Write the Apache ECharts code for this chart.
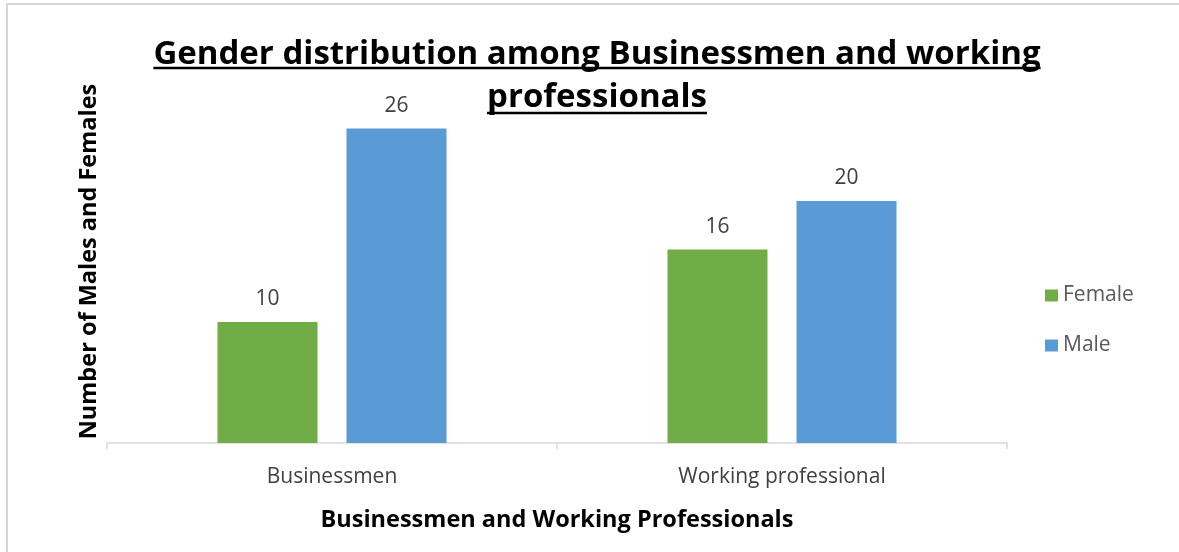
<!DOCTYPE html>
<html>
<head>
<meta charset="utf-8">
<script src="https://cdn.jsdelivr.net/npm/echarts@6/dist/echarts.min.js"></script>
<style>
  html, body { margin: 0; padding: 0; background: #fff; }
  #chart { width: 1179px; height: 552px; }
</style>
</head>
<body>
<div id="chart"></div>
<script>
// Chart data
const categories = ['Businessmen', 'Working professional'];
const femaleValues = [10, 16];
const maleValues = [26, 20];
const seriesNames = ['Female', 'Male'];
const titleLines = ['Gender distribution among Businessmen and working', 'professionals'];

const FONT = '"Open Sans", Lato, sans-serif';
const titleSize = 33;
const titleX = 597;
const titleTops = [38, 81];
const underlineY = [68, 113];

// Measure the title lines so each can carry an underline
const ctx = document.createElement('canvas').getContext('2d');
ctx.font = 'bold ' + titleSize + 'px ' + FONT;
const titleGraphics = [];
titleLines.forEach(function (line, i) {
  const w = ctx.measureText(line).width;
  titleGraphics.push({
    type: 'text',
    left: titleX - w / 2,
    top: titleTops[i],
    style: { text: line, font: 'bold ' + titleSize + 'px ' + FONT, fill: '#000' }
  });
  titleGraphics.push({
    type: 'line',
    shape: { x1: titleX - w / 2, y1: underlineY[i], x2: titleX + w / 2, y2: underlineY[i] },
    style: { stroke: '#000', lineWidth: 2.5 }
  });
});

const chart = echarts.init(document.getElementById('chart'), null, { renderer: 'canvas' });
chart.setOption({
  backgroundColor: '#fff',
  animation: false,
  graphic: [
    {
      type: 'rect',
      shape: { x: 7, y: 4, width: 1200, height: 600 },
      style: { fill: 'none', stroke: '#d6d6d6', lineWidth: 2 },
      z: -1
    }
  ].concat(titleGraphics),
  legend: {
    orient: 'vertical',
    left: 1040,
    top: 280,
    itemWidth: 13,
    itemHeight: 12,
    itemGap: 29,
    icon: 'rect',
    data: seriesNames,
    textStyle: { fontFamily: FONT, fontSize: 21, color: '#595959' }
  },
  grid: { left: 107, right: 172, top: 80, bottom: 109 },
  xAxis: {
    type: 'category',
    data: categories,
    name: 'Businessmen and Working Professionals',
    nameLocation: 'middle',
    nameGap: 65,
    nameTextStyle: { fontFamily: FONT, fontSize: 23.5, fontWeight: 'bold', color: '#000' },
    axisLine: { lineStyle: { color: '#d9d9d9', width: 1.5 } },
    axisTick: { show: true, length: 6, lineStyle: { color: '#d9d9d9', width: 1.5 } },
    axisLabel: { fontFamily: FONT, fontSize: 21, color: '#404040', margin: 24 }
  },
  yAxis: {
    type: 'value',
    min: 0,
    max: 30,
    name: 'Number of Males and Females',
    nameLocation: 'middle',
    nameGap: 6,
    nameTextStyle: { fontFamily: FONT, fontSize: 23.5, fontWeight: 'bold', color: '#000' },
    axisLine: { show: false },
    axisTick: { show: false },
    axisLabel: { show: false },
    splitLine: { show: false }
  },
  series: [
    {
      name: seriesNames[0],
      type: 'bar',
      data: femaleValues,
      barWidth: 100,
      barGap: '29%',
      itemStyle: { color: '#70ad47' },
      label: { show: true, position: 'top', distance: 12, fontFamily: FONT, fontSize: 21, color: '#404040' }
    },
    {
      name: seriesNames[1],
      type: 'bar',
      data: maleValues,
      barWidth: 100,
      barGap: '29%',
      itemStyle: { color: '#5b9bd5' },
      label: { show: true, position: 'top', distance: 12, fontFamily: FONT, fontSize: 21, color: '#404040' }
    }
  ]
});
</script>
</body>
</html>
